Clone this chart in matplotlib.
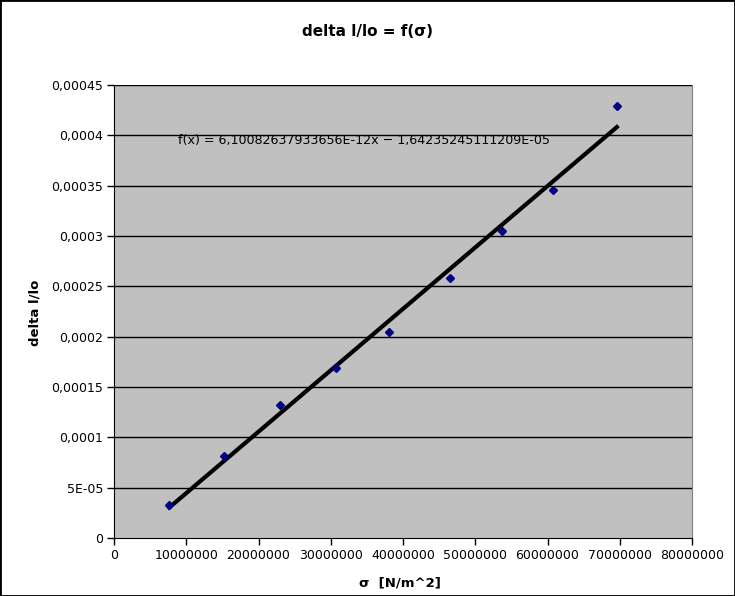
from matplotlib import pyplot as plt
from matplotlib.patches import Rectangle
import numpy as np

# measured data
sigma = [7.65e6, 15.22e6, 22.98e6, 30.73e6, 38.10e6, 46.5e6, 53.74e6, 60.76e6, 69.6e6]
strain = [3.25e-5, 8.18e-5, 1.321e-4, 1.689e-4, 2.049e-4, 2.586e-4, 3.050e-4, 3.457e-4, 4.288e-4]

# trend line coefficients (as shown on chart)
slope = 6.10082637933656e-12
intercept = -1.64235245111209e-05

x_ticks = [0, 10000000, 20000000, 30000000, 40000000, 50000000, 60000000, 70000000, 80000000]
y_ticks = [0, 0.00005, 0.0001, 0.00015, 0.0002, 0.00025, 0.0003, 0.00035, 0.0004, 0.00045]
y_tick_labels = ["0", "5E-05", "0,0001", "0,00015", "0,0002", "0,00025",
                 "0,0003", "0,00035", "0,0004", "0,00045"]

fig = plt.figure(figsize=(7.35, 5.96), dpi=100)
ax = fig.add_axes([114/735, 58/596, 578/735, 453/596])
ax.set_facecolor("#c0c0c0")

for y in y_ticks[1:]:
    ax.axhline(y, color="black", lw=1, zorder=1)

xs = np.array([min(sigma), max(sigma)])
ax.plot(xs, slope*xs + intercept, color="black", lw=3, zorder=2)
ax.plot(sigma, strain, linestyle="none", marker="D", markersize=4.5,
        color="#000080", zorder=3)

ax.text(8.86e6, 3.95e-4, "f(x) = 6,10082637933656E-12x − 1,64235245111209E-05",
        fontsize=9.1, ha="left", va="center", zorder=4)

ax.set_xlim(0, 80000000)
ax.set_ylim(0, 0.00045)
ax.set_xticks(x_ticks)
ax.set_xticklabels([str(v) for v in x_ticks])
ax.set_yticks(y_ticks)
ax.set_yticklabels(y_tick_labels)
ax.tick_params(labelsize=9, length=5, width=1, direction="out", pad=3)

ax.spines["top"].set_visible(False)
ax.spines["right"].set_color("#808080")
ax.spines["left"].set_color("black")
ax.spines["bottom"].set_color("black")

fig.text(400/735, 1 - 583/596, "σ  [N/m^2]", ha="center", va="center",
         fontsize=9.5, fontweight="bold")
fig.text(35/735, 1 - 313/596, "delta l/lo", ha="center", va="center",
         rotation=90, fontsize=9.5, fontweight="bold")
fig.text(367/735, 1 - 31/596, "delta l/lo = f(σ)", ha="center", va="center",
         fontsize=11, fontweight="bold")

fig.patches.append(Rectangle((0, 0), 1, 1, transform=fig.transFigure,
                             fill=False, edgecolor="black", lw=2))

fig.savefig("out.png", dpi=100)
